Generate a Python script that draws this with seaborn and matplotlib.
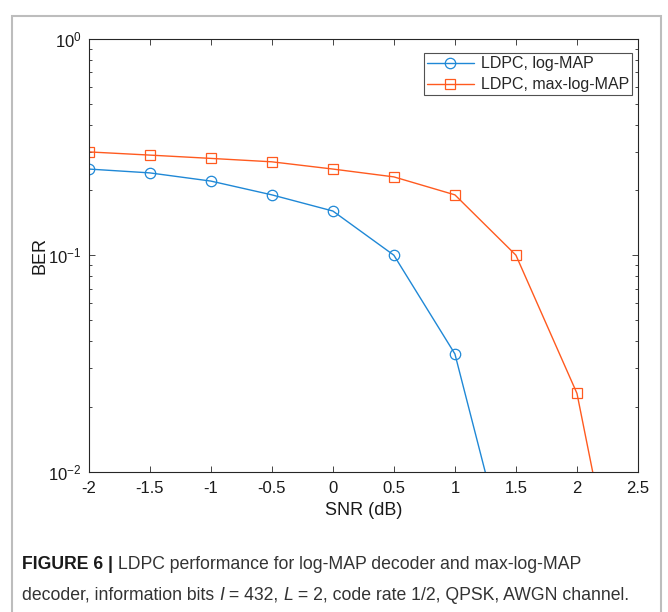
import matplotlib
matplotlib.use("Agg")
import matplotlib.pyplot as plt
from matplotlib.patches import Rectangle
from matplotlib.ticker import LogLocator, NullFormatter, FixedLocator
import seaborn as sns
import pandas as pd

# BER curves for the two decoders
snr_logmap = [-2.0, -1.5, -1.0, -0.5, 0.0, 0.5, 1.0, 1.5]
ber_logmap = [0.25, 0.24, 0.22, 0.19, 0.16, 0.10, 0.035, 0.0028]

snr_maxlog = [-2.0, -1.5, -1.0, -0.5, 0.0, 0.5, 1.0, 1.5, 2.0, 2.5]
ber_maxlog = [0.30, 0.29, 0.28, 0.27, 0.25, 0.23, 0.19, 0.10, 0.023, 0.0009]

series_names = ["LDPC, log-MAP", "LDPC, max-log-MAP"]
x_ticks = [-2, -1.5, -1, -0.5, 0, 0.5, 1, 1.5, 2, 2.5]
x_tick_labels = ["-2", "-1.5", "-1", "-0.5", "0", "0.5", "1", "1.5", "2", "2.5"]

caption_bold = "FIGURE 6 |"
caption_line1 = " LDPC performance for log-MAP decoder and max-log-MAP"
caption_line2 = ["decoder, information bits ", "I", " = 432, ", "L",
                 " = 2, code rate 1/2, QPSK, AWGN channel."]

sns.set_theme(style="ticks")
plt.rcParams["font.family"] = ["Liberation Sans", "DejaVu Sans"]
plt.rcParams["mathtext.fontset"] = "custom"
plt.rcParams["mathtext.rm"] = "Liberation Sans"
plt.rcParams["mathtext.it"] = "Liberation Sans:italic"
plt.rcParams["mathtext.default"] = "regular"
plt.rcParams["axes.unicode_minus"] = False

blue = "#1F88D6"
orange = "#FF5A1F"

fig = plt.figure(figsize=(6.68, 6.12), dpi=100)
ax = fig.add_axes([88.7 / 668, 1 - 471.7 / 612, (638 - 88.7) / 668, (471.7 - 38.7) / 612])

df1 = pd.DataFrame({"SNR": snr_logmap, "BER": ber_logmap})
df2 = pd.DataFrame({"SNR": snr_maxlog, "BER": ber_maxlog})

sns.lineplot(data=df1, x="SNR", y="BER", ax=ax, color=blue, lw=1.0,
             marker="o", markersize=7.5, markerfacecolor="none",
             markeredgecolor=blue, markeredgewidth=0.9, label=series_names[0])
sns.lineplot(data=df2, x="SNR", y="BER", ax=ax, color=orange, lw=1.0,
             marker="s", markersize=6.8, markerfacecolor="none",
             markeredgecolor=orange, markeredgewidth=0.9, label=series_names[1])

ax.set_yscale("log")
ax.set_xlim(-2, 2.5)
ax.set_ylim(1e-2, 1e0)
ax.xaxis.set_major_locator(FixedLocator(x_ticks))
ax.set_xticklabels(x_tick_labels)
ax.yaxis.set_major_locator(LogLocator(base=10, numticks=5))
ax.yaxis.set_minor_locator(LogLocator(base=10, subs=range(2, 10), numticks=20))
ax.yaxis.set_minor_formatter(NullFormatter())

for s in ax.spines.values():
    s.set_visible(True)
    s.set_color("#262626")
    s.set_linewidth(0.8)

ax.tick_params(axis="both", which="both", direction="in", top=True, right=True,
               color="#262626", width=0.6, labelsize=12, labelcolor="#1a1a1a")
ax.tick_params(axis="both", which="major", length=4.5)
ax.tick_params(axis="y", which="minor", length=2.5)
ax.tick_params(axis="x", which="major", pad=7)
ax.tick_params(axis="y", which="major", pad=5)

ax.set_xlabel("SNR (dB)", fontsize=13, color="#1a1a1a", labelpad=4)
ax.set_ylabel("BER", fontsize=13, color="#1a1a1a", labelpad=0)
ax.grid(False)

leg = ax.legend(loc="upper right", bbox_to_anchor=(0.9895, 0.967), fontsize=11.5,
                frameon=True, fancybox=False, handlelength=2.9, borderpad=0.2,
                labelspacing=0.38, handletextpad=0.45, borderaxespad=0.0)
leg.get_frame().set_edgecolor("#262626")
leg.get_frame().set_linewidth(0.8)

# surrounding frame of the figure panel
fig.patches.append(Rectangle((12.5 / 668, -0.02), (661 - 12.5) / 668, 1 - 16 / 612 + 0.02,
                             transform=fig.transFigure, fill=False,
                             edgecolor="#bdbdbd", linewidth=1.5))

# caption: pieces chained so mixed bold/italic runs share a baseline
cap_size = 12.7
t = fig.text(22 / 668, 1 - 569 / 612, caption_bold, fontsize=cap_size,
             fontweight="bold", color="#1a1a1a", va="baseline")
fig.canvas.draw()
prev = t
prev = ax.annotate(caption_line1, xy=(1, 0), xycoords=prev, va="bottom", ha="left",
                   fontsize=cap_size, color="#333333", annotation_clip=False)

t2 = fig.text(22 / 668, 1 - 600 / 612, caption_line2[0], fontsize=cap_size,
              color="#333333", va="baseline")
prev = t2
for piece in caption_line2[1:]:
    style = "italic" if piece in ("I", "L") else "normal"
    prev = ax.annotate(piece, xy=(1, 0), xycoords=prev, va="bottom", ha="left",
                       fontsize=cap_size, style=style, color="#333333",
                       annotation_clip=False)

fig.savefig("out.png", dpi=100)
